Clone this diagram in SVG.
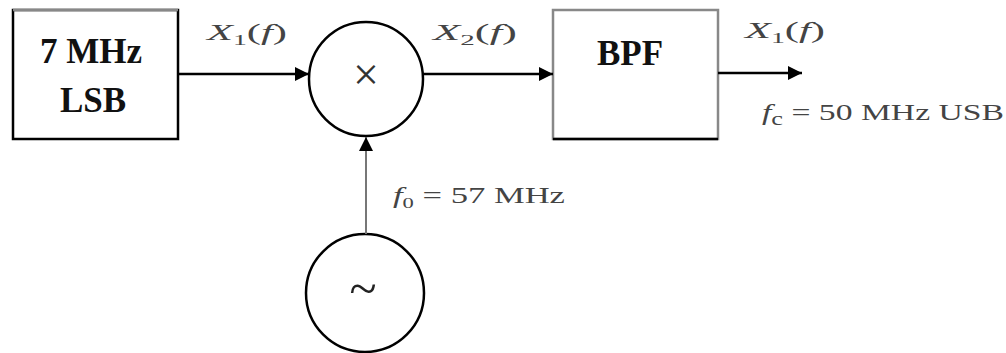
<svg xmlns="http://www.w3.org/2000/svg" width="1006" height="353" viewBox="0 0 1006 353">
<style>
.bold{font-family:"Liberation Serif",serif;font-weight:bold;font-size:35px;fill:#111;text-anchor:middle}
.lbl{font-family:"Liberation Serif",serif;font-size:23px;fill:#444}
.it{font-style:italic}
.conn{stroke:#000;stroke-width:2.5;fill:none}
.node{fill:#fff;stroke:#000;stroke-width:2.5}
</style>
<defs>
<marker id="ah" viewBox="0 0 10 10" refX="10" refY="5" markerWidth="16" markerHeight="14" markerUnits="userSpaceOnUse" orient="auto">
<path d="M0,0 L10,5 L0,10 z" fill="#000"/>
</marker>
</defs>
<g id="lsb">
<rect x="13" y="10" width="165" height="129" class="node"/>
<line x1="13" y1="10" x2="178" y2="10" stroke="#888" stroke-width="2.5"/>
<text class="bold" x="91" y="63">7 MHz</text>
<text class="bold" x="93" y="112">LSB</text>
</g>
<g id="mixer">
<circle cx="366" cy="79" r="57" class="node" stroke-width="2"/>
<text x="366" y="90" font-family="Liberation Serif, serif" font-size="46" fill="#333" text-anchor="middle">×</text>
</g>
<g id="osc">
<circle cx="365" cy="293" r="59" class="node" stroke-width="2"/>
<text x="363" y="305" font-family="Liberation Serif, serif" font-size="50" fill="#222" text-anchor="middle">~</text>
</g>
<g id="bpf">
<rect x="553" y="10" width="165" height="129" fill="#fff" stroke="#888" stroke-width="2.5"/>
<line x1="553" y1="139" x2="718" y2="139" stroke="#000" stroke-width="2.5"/>
<text class="bold" x="630" y="65">BPF</text>
</g>
<g id="connectors">
<line x1="178" y1="74" x2="309" y2="74" class="conn" marker-end="url(#ah)"/>
<line x1="424" y1="74" x2="553" y2="74" class="conn" marker-end="url(#ah)"/>
<line x1="718" y1="73" x2="802" y2="73" class="conn" marker-end="url(#ah)"/>
<line x1="366" y1="234" x2="366" y2="137" stroke="#777" stroke-width="2" marker-end="url(#ah)"/>
</g>
<g id="labels">
<text class="lbl" x="207" y="40" textLength="80" lengthAdjust="spacingAndGlyphs"><tspan class="it">X</tspan><tspan font-size="15" dy="5">1</tspan><tspan dy="-5">(</tspan><tspan class="it">f</tspan>)</text>
<text class="lbl" x="433" y="40" textLength="84" lengthAdjust="spacingAndGlyphs"><tspan class="it">X</tspan><tspan font-size="15" dy="5">2</tspan><tspan dy="-5">(</tspan><tspan class="it">f</tspan>)</text>
<text class="lbl" x="745" y="38" textLength="80" lengthAdjust="spacingAndGlyphs"><tspan class="it">X</tspan><tspan font-size="15" dy="5">1</tspan><tspan dy="-5">(</tspan><tspan class="it">f</tspan>)</text>
<text class="lbl" x="393" y="203" textLength="172" lengthAdjust="spacingAndGlyphs"><tspan class="it">f</tspan><tspan font-size="15" dy="5">0</tspan><tspan dy="-5"> = 57 MHz</tspan></text>
<text class="lbl" x="762" y="120" font-size="30" textLength="242" lengthAdjust="spacingAndGlyphs"><tspan class="it">f</tspan><tspan font-size="18" dy="5">c</tspan><tspan dy="-5"> = 50 MHz USB</tspan></text>
</g>
</svg>
